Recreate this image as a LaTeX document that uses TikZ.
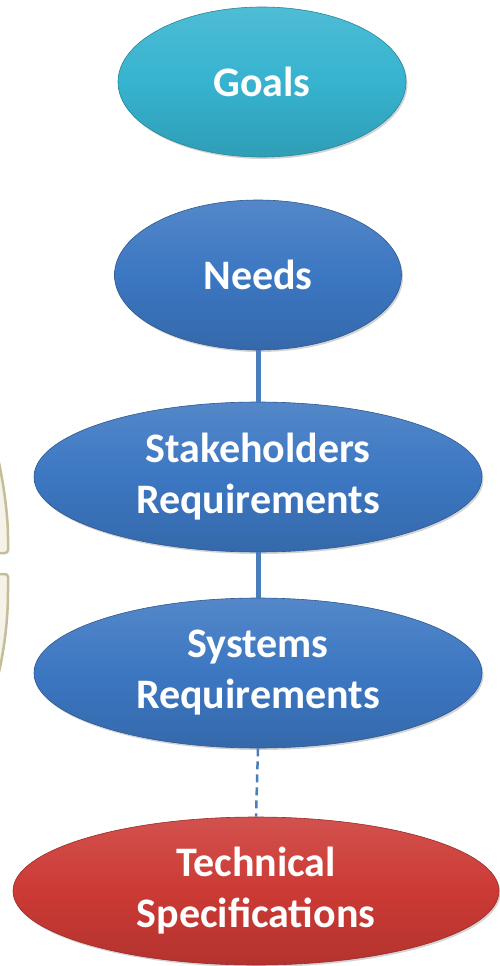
\documentclass[tikz,border=0pt]{standalone}
\usepackage{fontspec}
\setmainfont{Carlito}
\usetikzlibrary{shapes.geometric,shadows}

\definecolor{goalcyan}{HTML}{36B3CF}
\definecolor{needblue}{HTML}{3C77C2}
\definecolor{specred}{HTML}{CC3A35}
\definecolor{linkblue}{HTML}{4A7EBB}
\definecolor{ringline}{HTML}{C5BC98}
\definecolor{ringfill}{HTML}{F4F2E9}

\begin{document}
\begin{tikzpicture}[x=1pt,y=-1pt,
	bubble/.style={ellipse, inner sep=0pt, minimum height=150pt, text=white,
		font=\bfseries\fontsize{42}{51}\selectfont, align=center,
		draw=#1!75!black, line width=0.6pt,
		top color=#1!88!white, bottom color=#1!88!black, middle color=#1,
		drop shadow={shadow xshift=1.5pt, shadow yshift=-2pt, opacity=0.35}},
	link/.style={draw=linkblue, line width=5pt},
	dashlink/.style={draw=linkblue, line width=2.5pt, dash pattern=on 8pt off 5pt},
	ring/.style={draw=ringline, fill=ringfill, line width=2.5pt, rounded corners=3pt}]
	\useasboundingbox (0,0) rectangle (500,966);
	% cut-off rings on the left
	\draw[ring] (-10,428) .. controls (3,470) and (8,515) .. (8,540) -- (8,553) -- (-10,553);
	\draw[ring] (-10,574) -- (8,574) -- (8,588) .. controls (8,625) and (3,665) .. (-10,705);
	% chain
	\node[bubble=goalcyan, minimum width=288pt] (goals) at (262,82) {Goals};
	\node[bubble=needblue, minimum width=287pt] (needs) at (258,275) {Needs};
	\node[bubble=needblue, minimum width=448pt] (stake) at (258,477) {Stakeholders\\Requirements};
	\node[bubble=needblue, minimum width=448pt] (systems) at (258,673) {Systems\\Requirements};
	\node[bubble=specred, minimum width=486pt, minimum height=148pt] (techspec) at (256,891) {Technical\\Specifications};
	\draw[link] (needs.south) -- (stake.north);
	\draw[link] (stake.south) -- (systems.north);
	\draw[dashlink] (systems.south) -- (techspec.north);
\end{tikzpicture}
\end{document}
